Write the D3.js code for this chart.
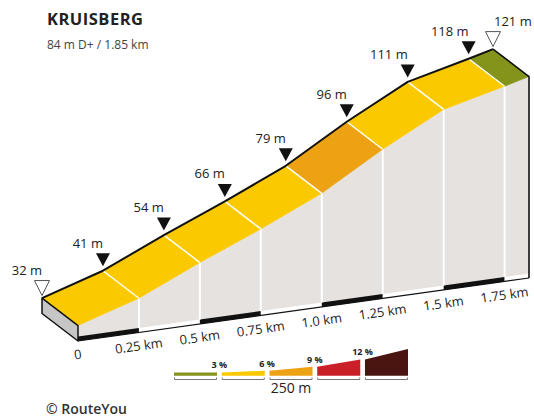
<!DOCTYPE html>
<html lang="nl">
<head>
<meta charset="UTF-8">
<script src="https://d3js.org/d3.v7.min.js"></script>
<style>
  body { margin: 0; background: #fff; }
  svg { display: block; font-family: "Open Sans", sans-serif; }
</style>
</head>
<body>
<div id="container"></div>
<script>
// profile data
const distances = [0, 0.25, 0.5, 0.75, 1.0, 1.25, 1.5, 1.75, 1.85];   // km
const elevations = [32, 41, 54, 66, 79, 96, 111, 118, 121];           // m
const segClass = [1, 1, 1, 1, 2, 1, 1, 0];  // gradient class of each segment (index in legend)
const kmTicks = [0, 0.25, 0.5, 0.75, 1.0, 1.25, 1.5, 1.75];
const kmLabels = ["0", "0.25 km", "0.5 km", "0.75 km", "1.0 km", "1.25 km", "1.5 km", "1.75 km"];
const gradeClasses = ["0-3", "3-6", "6-9", "9-12", "12+"];
const gradeLabels = ["3 %", "6 %", "9 %", "12 %"];
const title = "KRUISBERG";
const subtitle = "84 m D+ / 1.85 km";

const width = 534, height = 417;
const colors = ["#84931a", "#fbc900", "#eca212", "#cb2029", "#4a1510"];

// scales: front edge of the block, baseline, elevation height
const xFront = d3.scaleLinear().domain([0, 1.85]).range([78, 529]);
const yBase = d3.scaleLinear().domain([0, 1.85]).range([341, 278]);
const hElev = d3.scaleLinear().domain([24.6, 121]).range([0, 201.4]);
const depth = {dx: -36, dy: -27.5};

const pts = distances.map((d, i) => {
  const fx = xFront(d), fy = yBase(d) - hElev(elevations[i]);
  return {d, e: elevations[i], fx, fy, bx: fx + depth.dx, by: fy + depth.dy};
});

const svg = d3.select("#container").append("svg")
  .attr("width", width).attr("height", height);

// front face
const frontPoly = pts.map(p => [p.fx, p.fy])
  .concat([[xFront(1.85), yBase(1.85)], [xFront(0), yBase(0)]]);
svg.append("path")
  .attr("d", "M" + frontPoly.join("L") + "Z")
  .attr("fill", "#e6e2df");

// scale strip along the bottom
const stripEnds = kmTicks.concat([1.85]);
for (let i = 0; i < stripEnds.length - 1; i++) {
  const a = stripEnds[i], b = stripEnds[i + 1];
  const poly = [[xFront(a), yBase(a) - 4.5], [xFront(b), yBase(b) - 4.5], [xFront(b), yBase(b)], [xFront(a), yBase(a)]];
  svg.append("path").attr("d", "M" + poly.join("L") + "Z")
    .attr("fill", i % 2 === 0 ? "#111" : "#fff");
}
svg.append("line")
  .attr("x1", xFront(0)).attr("y1", yBase(0))
  .attr("x2", xFront(1.85)).attr("y2", yBase(1.85))
  .attr("stroke", "#111").attr("stroke-width", 1.2);

// vertical separators on the front face
svg.append("g").selectAll("line")
  .data(pts.slice(1, -1))
  .join("line")
  .attr("x1", p => p.fx).attr("y1", p => p.fy)
  .attr("x2", p => p.fx).attr("y2", p => yBase(p.d) - 4.5)
  .attr("stroke", "#fff").attr("stroke-width", 2);

// top surface segments
svg.append("g").selectAll("path")
  .data(d3.range(pts.length - 1))
  .join("path")
  .attr("d", i => {
    const a = pts[i], b = pts[i + 1];
    return `M${a.bx},${a.by}L${b.bx},${b.by}L${b.fx},${b.fy}L${a.fx},${a.fy}Z`;
  })
  .attr("fill", i => colors[segClass[i]])
  .attr("stroke", i => colors[segClass[i]])
  .attr("stroke-width", 0.5);

// white diagonal separators on the top surface
svg.append("g").selectAll("line")
  .data(pts.slice(1, -1))
  .join("line")
  .attr("x1", p => p.bx).attr("y1", p => p.by)
  .attr("x2", p => p.fx).attr("y2", p => p.fy)
  .attr("stroke", "#fff").attr("stroke-width", 1.5);

// left side of the block
const p0 = pts[0];
const side = [[p0.bx, p0.by], [p0.fx, p0.fy], [xFront(0), yBase(0)], [xFront(0) + depth.dx, yBase(0) + depth.dy]];
svg.append("path").attr("d", "M" + side.join("L") + "Z")
  .attr("fill", "#c6c6c6").attr("stroke", "#111").attr("stroke-width", 1.5)
  .attr("stroke-linejoin", "round");

// profile line on the back edge
svg.append("path")
  .attr("d", d3.line().x(p => p.bx).y(p => p.by)(pts))
  .attr("fill", "none").attr("stroke", "#111").attr("stroke-width", 2)
  .attr("stroke-linejoin", "round");

// right edges
const pe = pts[pts.length - 1];
svg.append("path")
  .attr("d", `M${pe.bx},${pe.by}L${pe.fx},${pe.fy}L${pe.fx},${yBase(1.85)}`)
  .attr("fill", "none").attr("stroke", "#111").attr("stroke-width", 1.6);

// markers + elevation labels
const mk = svg.append("g").selectAll("g")
  .data(pts)
  .join("g")
  .attr("transform", p => `translate(${p.bx},${p.by})`);

mk.append("path")
  .attr("d", (p, i) => (i === 0 || i === pts.length - 1)
    ? "M-7.5,-17.5L7.5,-17.5L0,-2.5Z"
    : "M-7,-17.5L7,-17.5L0,-4.5Z")
  .attr("fill", (p, i) => (i === 0 || i === pts.length - 1) ? "#fff" : "#111")
  .attr("stroke", (p, i) => (i === 0 || i === pts.length - 1) ? "#555" : "none")
  .attr("stroke-width", 1);

mk.append("text")
  .attr("x", (p, i) => i === pts.length - 1 ? 1 : 0)
  .attr("y", -23)
  .attr("text-anchor", (p, i) => i === pts.length - 1 ? "start" : "end")
  .attr("font-size", 13)
  .attr("fill", "#222")
  .text(p => p.e + " m");

// distance labels, rotated along the baseline
const angle = Math.atan2(yBase(1.85) - yBase(0), xFront(1.85) - xFront(0)) * 180 / Math.PI;
svg.append("g").selectAll("text")
  .data(kmTicks)
  .join("text")
  .attr("transform", t => `translate(${xFront(t)},${yBase(t) + 14.5}) rotate(${angle})`)
  .attr("text-anchor", "middle")
  .attr("dominant-baseline", "middle")
  .attr("font-size", 13)
  .attr("fill", "#222")
  .text((t, i) => kmLabels[i]);

// title
svg.append("text").attr("x", 47).attr("y", 25)
  .attr("font-size", 16.5).attr("font-weight", 700).attr("fill", "#222")
  .attr("letter-spacing", 0.5)
  .text(title);
svg.append("text").attr("x", 47).attr("y", 49)
  .attr("font-size", 12).attr("fill", "#444")
  .text(subtitle);

// legend
const lx = d3.scaleBand().domain(gradeClasses).range([174, 408]).paddingInner(0.0985);
const lh = [3.3, 3.3, 5, 9, 16.3, 26.7];
const lBottom = 375.7;
const lg = svg.append("g");
lg.selectAll("path.sw")
  .data(gradeClasses)
  .join("path")
  .attr("class", "sw")
  .attr("d", (c, i) => {
    const x0 = lx(c), x1 = x0 + lx.bandwidth();
    return `M${x0},${lBottom}L${x0},${lBottom - lh[i]}L${x1},${lBottom - lh[i + 1]}L${x1},${lBottom}Z`;
  })
  .attr("fill", (c, i) => colors[i]);

lg.selectAll("path.br")
  .data(gradeClasses)
  .join("path")
  .attr("class", "br")
  .attr("d", c => {
    const x0 = lx(c) + 0.5, x1 = lx(c) + lx.bandwidth() - 0.5;
    return `M${x0},377.5L${x0},379.5L${x1},379.5L${x1},377.5`;
  })
  .attr("fill", "none").attr("stroke", "#777").attr("stroke-width", 1);

lg.selectAll("text.gl")
  .data(gradeLabels)
  .join("text")
  .attr("class", "gl")
  .attr("x", (g, i) => lx(gradeClasses[i]) + lx.bandwidth() + lx.step() * 0.0492)
  .attr("y", (g, i) => lBottom - lh[i + 1] - 4)
  .attr("text-anchor", "middle")
  .attr("font-size", 9).attr("font-weight", 700).attr("fill", "#222")
  .text(g => g);

lg.append("text")
  .attr("x", lx(gradeClasses[2]) + lx.bandwidth() / 2).attr("y", 393)
  .attr("text-anchor", "middle")
  .attr("font-size", 14).attr("fill", "#222")
  .text("250 m");

svg.append("text").attr("x", 46).attr("y", 414)
  .attr("font-size", 14).attr("font-weight", 600).attr("fill", "#333")
  .text("© RouteYou");
</script>
</body>
</html>
